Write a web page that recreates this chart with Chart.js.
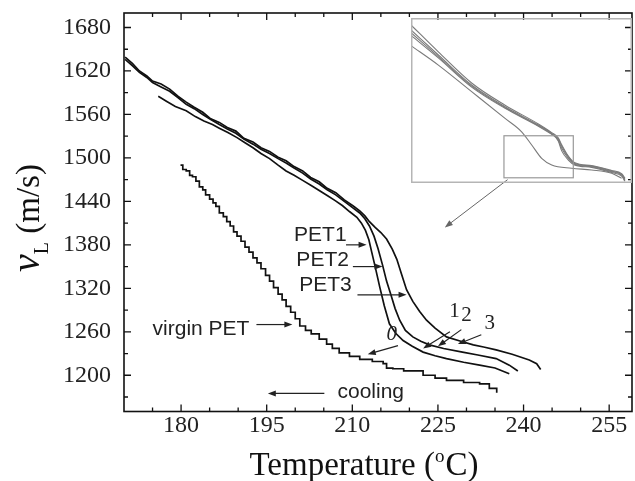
<!DOCTYPE html>
<html>
<head>
<meta charset="utf-8">
<script src="https://cdn.jsdelivr.net/npm/chart.js@4.4.0/dist/chart.umd.min.js"></script>
<style>
body { margin: 0; background: #fff; }
#wrap { position: relative; width: 635px; height: 481px; }
#main { position: absolute; left: 0; top: 0; }
#inset { position: absolute; left: 411px; top: 18px; }
</style>
</head>
<body>
<div id="wrap">
<canvas id="main" width="635" height="481"></canvas>
<canvas id="inset" width="221" height="165"></canvas>
</div>
<script>
// main plot: sound velocity v_L (m/s) vs temperature (C), cooling runs
var xMajor = [180, 195, 210, 225, 240, 255];
var yMajor = [1200, 1260, 1320, 1380, 1440, 1500, 1560, 1620, 1680];

var pet1T = [176,177.5,179,180.9,182.5,184,185.5,186.7,188.2,189.8,191.2,192.6,194,195.5,197,198.4,199.8,201.3,202.8,204.2,205.6,207,208.3,209.5,210.8,211.6,212.3,212.9,213.4,214,214.8,215.6,216.5,217.6,218.9,220.5,222.4,224.5,226.5,229.5,232.3,235,237.5];
var pet1V = [1585,1578,1571,1565,1557,1551,1546,1541,1535,1528,1521,1514,1506,1499,1490,1482,1476,1469,1462,1455,1448,1441,1434,1426,1418,1410,1400,1387,1370,1350,1322,1296,1271,1258,1248,1240,1232,1227,1223,1218,1214,1210,1202];

var pet2T = [170.2,171.5,172.7,174,175,176.5,178,179.5,180.9,182.3,183.8,185.2,186.7,188.1,189.6,191,192.6,194,195.5,197,198.4,199.8,201.3,202.7,204.2,205.6,207.1,208.6,210.1,211.3,212.2,213,213.8,214.5,215.3,216,216.8,217.5,218.3,219.3,220.6,222,223.5,226,229.3,232,235.2,237.5,239];
var pet2V = [1636,1627,1618,1611,1604,1598,1592,1583,1574,1568,1560,1553,1546,1540,1534,1526,1519,1512,1506,1499,1493,1486,1479,1471,1464,1456,1449,1440,1431,1424,1416,1406,1392,1375,1352,1330,1310,1292,1276,1262,1253,1247,1242,1237,1232,1228,1223,1214,1206];

var pet3T = [170.2,171.5,172.7,174,175,176.5,178,179.5,180.9,182.3,183.8,185.2,186.7,188.1,189.6,191,192.6,194,195.5,197,198.4,199.8,201.3,202.7,204.2,205.6,207.1,208.6,210.1,211.3,212.2,213,214,215,216,217,217.8,218.6,219.5,220.6,221.8,223,224.5,226.5,229,231.2,233,235.2,238,241,242.3,243];
var pet3V = [1639,1630,1620,1613,1606,1602,1595,1585,1577,1570,1563,1554,1549,1542,1537,1527,1522,1514,1509,1501,1496,1488,1482,1473,1467,1458,1452,1442,1434,1427,1420,1412,1404,1397,1388,1374,1360,1340,1318,1302,1288,1276,1265,1253,1247,1242,1239,1235,1229,1221,1216,1208];

var virginT = [179.9,180.3,180.9,181.5,182,182.6,183.2,183.8,184.3,185,185.6,186.1,186.7,187.4,188,188.6,189.2,189.8,190.5,191.2,191.9,192.6,193.3,194,194.8,195.5,196.2,197,197.7,198.4,199.2,200,200.8,201.8,202.8,204.2,205.5,206.5,207.7,209.5,211.3,213.5,215.4,216,217.1,219,222.4,224.5,226.5,229.5,232.3,234,235.3];
var virginV = [1490,1484,1482,1476,1474,1468,1460,1456,1449,1443,1438,1433,1424,1419,1412,1406,1398,1392,1385,1377,1370,1362,1355,1347,1338,1330,1321,1312,1304,1295,1287,1278,1268,1262,1257,1250,1243,1237,1231,1226,1222,1219,1216,1210,1209,1206,1200,1196,1193,1190,1188,1182,1176];

// inset: full cooling curves (same units, wider range)
var insetT = [100,119.8,143.9,168.1,192.2,201.9,206.6,209.1,213.9,218.7,230.8,245.3,252.5,254.9];
var insetA = [2060,1905,1726,1598,1490,1440,1410,1370,1305,1266,1250,1222,1204,1178];
var insetB = [2031,1887,1714,1589,1484,1436,1398,1350,1292,1258,1244,1215,1196,1167];
var insetC = [2015,1878,1708,1584,1480,1432,1392,1335,1282,1253,1240,1210,1190,1160];
var insetD = [2000,1870,1702,1580,1477,1430,1405,1362,1300,1262,1247,1218,1200,1172];
var insetVirginT = [100,119.8,143.9,168.1,180.1,187.4,194.6,201.9,216.3,230.8,245.3,252.5];
var insetVirginV = [1941,1829,1676,1522,1445,1369,1292,1254,1235,1225,1206,1177];

function pts(xs, ys) {
    return xs.map(function (t, i) { return {x: t, y: ys[i]}; });
}

function arrow(ctx, x1, y1, x2, y2) {
    var ang = Math.atan2(y2 - y1, x2 - x1);
    ctx.beginPath();
    ctx.moveTo(x1, y1);
    ctx.lineTo(x2 - 5 * Math.cos(ang), y2 - 5 * Math.sin(ang));
    ctx.stroke();
    ctx.beginPath();
    ctx.moveTo(x2, y2);
    ctx.lineTo(x2 - 8 * Math.cos(ang) + 3 * Math.sin(ang), y2 - 8 * Math.sin(ang) - 3 * Math.cos(ang));
    ctx.lineTo(x2 - 8 * Math.cos(ang) - 3 * Math.sin(ang), y2 - 8 * Math.sin(ang) + 3 * Math.cos(ang));
    ctx.closePath();
    ctx.fill();
}

var frame = {
    id: 'frame',
    afterDraw: function (chart) {
        var ctx = chart.ctx, a = chart.chartArea, x = chart.scales.x, y = chart.scales.y;
        ctx.save();
        ctx.strokeStyle = '#111';
        ctx.lineWidth = 1.6;
        ctx.strokeRect(a.left, a.top, a.right - a.left, a.bottom - a.top);
        ctx.lineWidth = 1.3;
        ctx.beginPath();
        for (var t = 175; t < 259; t += 5) {
            var px = x.getPixelForValue(t);
            var len = xMajor.indexOf(t) >= 0 ? 7 : 4;
            ctx.moveTo(px, a.bottom); ctx.lineTo(px, a.bottom - len);
            ctx.moveTo(px, a.top); ctx.lineTo(px, a.top + len);
        }
        for (var v = 1170; v < 1700; v += 30) {
            var py = y.getPixelForValue(v);
            var l2 = yMajor.indexOf(v) >= 0 ? 7 : 4;
            ctx.moveTo(a.left, py); ctx.lineTo(a.left + l2, py);
            ctx.moveTo(a.right, py); ctx.lineTo(a.right - l2, py);
        }
        ctx.stroke();

        // annotations
        function X(t) { return x.getPixelForValue(t); }
        function Y(v) { return y.getPixelForValue(v); }
        ctx.fillStyle = '#222';
        ctx.strokeStyle = '#222';
        ctx.lineWidth = 1.2;
        ctx.font = '21px "Liberation Sans", Arial, sans-serif';
        ctx.textBaseline = 'middle';
        ctx.textAlign = 'center';
        ctx.fillText('PET1', X(204.4), Y(1394));
        ctx.fillText('PET2', X(204.8), Y(1359));
        ctx.fillText('PET3', X(205.3), Y(1325));
        ctx.textAlign = 'left';
        ctx.fillText('virgin PET', X(175), Y(1263));
        ctx.fillText('cooling', X(207.4), Y(1177));
        arrow(ctx, X(208.9), Y(1380), X(212.5), Y(1380));
        arrow(ctx, X(210.1), Y(1350), X(215.3), Y(1350));
        arrow(ctx, X(210.9), Y(1311), X(219.5), Y(1311));
        arrow(ctx, X(193.2), Y(1270), X(199.5), Y(1270));
        arrow(ctx, X(205.1), Y(1175), X(195.2), Y(1175));
        arrow(ctx, X(218), Y(1241), X(212.7), Y(1229));
        arrow(ctx, X(227.1), Y(1260), X(222.4), Y(1237));
        arrow(ctx, X(229.1), Y(1263), X(225), Y(1240));
        arrow(ctx, X(232.6), Y(1256), X(228.5), Y(1243));
        ctx.textAlign = 'center';
        ctx.font = 'italic 21px "Liberation Serif", serif';
        ctx.fillText('0', X(216.9), Y(1256));
        ctx.font = '21px "Liberation Serif", serif';
        ctx.fillText('1', X(227.9), Y(1288));
        ctx.fillText('2', X(230), Y(1283));
        ctx.fillText('3', X(234.1), Y(1271));
        // pointer from the inset's zoom box
        ctx.strokeStyle = '#666';
        ctx.fillStyle = '#666';
        ctx.lineWidth = 1;
        arrow(ctx, X(237.2), Y(1470), X(226.2), Y(1404));

        // axis titles
        ctx.fillStyle = '#111';
        ctx.textAlign = 'left';
        ctx.textBaseline = 'alphabetic';
        var big = '33px "Liberation Serif", serif', sup = '19px "Liberation Serif", serif';
        ctx.font = big;
        var w1 = ctx.measureText('Temperature (').width, w3 = ctx.measureText('C)').width;
        ctx.font = sup;
        var w2 = ctx.measureText('o').width + 1;
        var sx = 364 - (w1 + w2 + w3) / 2;
        ctx.font = big;
        ctx.fillText('Temperature (', sx, 475);
        ctx.font = sup;
        ctx.fillText('o', sx + w1, 462);
        ctx.font = big;
        ctx.fillText('C)', sx + w1 + w2, 475);

        ctx.translate(39, 218);
        ctx.rotate(-Math.PI / 2);
        var fv = 'italic 40px "Liberation Serif", serif', fl = '20px "Liberation Serif", serif';
        ctx.font = fv;
        var a1 = ctx.measureText('v').width;
        ctx.font = fl;
        var a2 = ctx.measureText('L').width;
        ctx.font = big;
        var a3 = ctx.measureText(' (m/s)').width;
        var s = -(a1 + a2 + a3) / 2;
        ctx.font = fv;
        ctx.fillText('v', s, 0);
        ctx.font = fl;
        ctx.fillText('L', s + a1, 9);
        ctx.font = big;
        ctx.fillText(' (m/s)', s + a1 + a2, 0);
        ctx.restore();
    }
};

function line(xs, ys, stepped) {
    return {
        data: pts(xs, ys),
        borderColor: '#111',
        borderWidth: 1.7,
        pointRadius: 0,
        fill: false,
        tension: 0,
        stepped: stepped || false
    };
}

var tickFont = {family: '"Liberation Serif", serif', size: 24};
function plain(v) { return String(v); }

new Chart(document.getElementById('main').getContext('2d'), {
    type: 'line',
    data: {
        datasets: [
            line(pet1T, pet1V),
            line(pet2T, pet2V),
            line(pet3T, pet3V),
            line(virginT, virginV, true)
        ]
    },
    options: {
        responsive: false,
        animation: false,
        layout: { padding: { top: 13, right: 3, left: 0, bottom: 0 } },
        plugins: { legend: { display: false }, tooltip: { enabled: false } },
        scales: {
            x: {
                type: 'linear',
                min: 170,
                max: 259,
                afterFit: function (s) { s.height = 69.5; s.paddingLeft = 0; s.paddingRight = 0; },
                afterBuildTicks: function (s) { s.ticks = xMajor.map(function (v) { return {value: v}; }); },
                grid: { display: false, drawTicks: false },
                border: { display: false },
                ticks: { font: tickFont, color: '#222', padding: 0, maxRotation: 0, autoSkip: false, callback: plain }
            },
            y: {
                type: 'linear',
                min: 1150,
                max: 1700,
                afterFit: function (s) { s.width = 124; s.paddingTop = 0; s.paddingBottom = 0; },
                afterBuildTicks: function (s) { s.ticks = yMajor.map(function (v) { return {value: v}; }); },
                grid: { display: false, drawTicks: false },
                border: { display: false },
                ticks: { font: tickFont, color: '#222', padding: 13, autoSkip: false, callback: plain }
            }
        }
    },
    plugins: [frame]
});

var insetFrame = {
    id: 'insetFrame',
    afterDraw: function (chart) {
        var ctx = chart.ctx, a = chart.chartArea, x = chart.scales.x, y = chart.scales.y;
        ctx.save();
        ctx.strokeStyle = '#b5b5b5';
        ctx.lineWidth = 1.5;
        ctx.strokeRect(a.left + 0.75, a.top + 0.75, a.right - a.left - 1.5, a.bottom - a.top - 1.5);
        ctx.strokeStyle = '#999';
        ctx.lineWidth = 1.2;
        var x1 = x.getPixelForValue(167.3), x2 = x.getPixelForValue(217.5);
        var y1 = y.getPixelForValue(1422), y2 = y.getPixelForValue(1180);
        ctx.strokeRect(x1, y1, x2 - x1, y2 - y1);
        ctx.restore();
    }
};

function grey(xs, ys) {
    return {
        data: pts(xs, ys),
        borderColor: '#7a7a7a',
        borderWidth: 1.1,
        pointRadius: 0,
        fill: false,
        tension: 0.35,
        cubicInterpolationMode: 'monotone'
    };
}

new Chart(document.getElementById('inset').getContext('2d'), {
    type: 'line',
    data: {
        datasets: [
            grey(insetT, insetA),
            grey(insetT, insetB),
            grey(insetT, insetC),
            grey(insetT, insetD),
            grey(insetVirginT, insetVirginV)
        ]
    },
    options: {
        responsive: false,
        animation: false,
        layout: { padding: 0 },
        plugins: { legend: { display: false }, tooltip: { enabled: false } },
        scales: {
            x: { type: 'linear', display: false, min: 100, max: 260 },
            y: { type: 'linear', display: false, min: 1150, max: 2100 }
        }
    },
    plugins: [insetFrame]
});
</script>
</body>
</html>
